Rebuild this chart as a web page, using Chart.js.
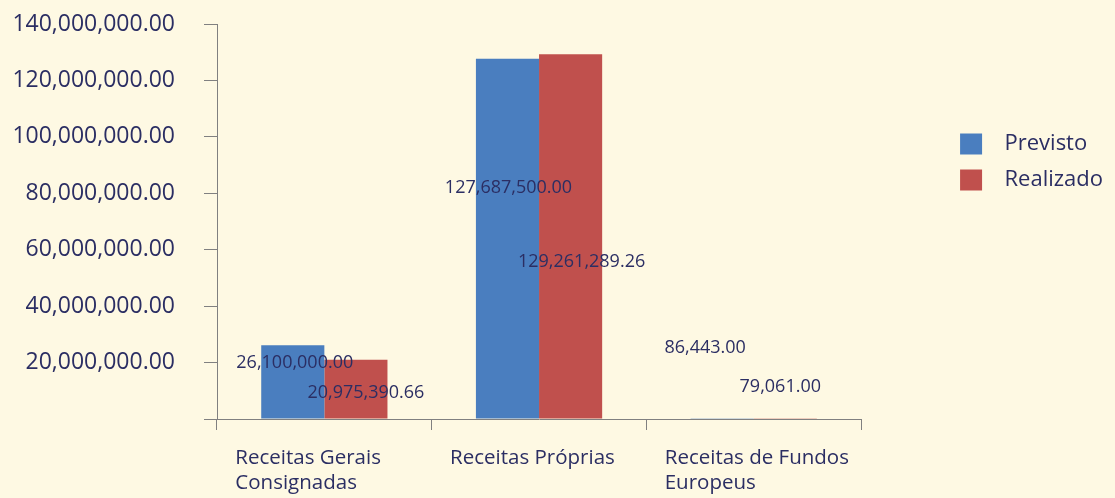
<!DOCTYPE html>
<html>
<head>
<meta charset="utf-8">
<script src="https://cdn.jsdelivr.net/npm/chart.js@4/dist/chart.umd.min.js"></script>
<style>
  html, body { margin: 0; padding: 0; background: #FEF9E3; }
  #wrap { width: 1115px; height: 498px; }
</style>
</head>
<body>
<div id="wrap"><canvas id="receitasChart" width="1115" height="498"></canvas></div>
<script>
var categories = [["Receitas Gerais", "Consignadas"], ["Receitas Próprias"], ["Receitas de Fundos", "Europeus"]];
var previsto = [26100000.00, 127687500.00, 86443.00];
var realizado = [20975390.66, 129261289.26, 79061.00];
var seriesNames = ["Previsto", "Realizado"];

var ink = "#2B2E63";
var axisGrey = "#808080";
var fontName = "Open Sans";

function fmt(v) {
    return v.toLocaleString("en-US", { minimumFractionDigits: 2, maximumFractionDigits: 2 });
}

// value labels: offsets from the bar centre and height above the baseline (px)
var labelPlace = [
    [{ dx: 2, up: 56 }, { dx: 1, up: 231 }, { dx: -17, up: 71 }],
    [{ dx: 10, up: 26 }, { dx: 11, up: 157 }, { dx: -5, up: 32 }]
];

var valueLabels = {
    id: "valueLabels",
    afterDatasetsDraw: function(chart) {
        var ctx = chart.ctx;
        var base = chart.scales.y.getPixelForValue(0);
        ctx.save();
        ctx.font = "18px '" + fontName + "'";
        ctx.fillStyle = ink;
        ctx.textAlign = "center";
        ctx.textBaseline = "middle";
        chart.data.datasets.forEach(function(ds, i) {
            var meta = chart.getDatasetMeta(i);
            meta.data.forEach(function(bar, j) {
                var p = labelPlace[i][j];
                ctx.fillText(fmt(ds.data[j]), bar.x + p.dx, base - p.up);
            });
        });
        ctx.restore();
    }
};

var ctx = document.getElementById("receitasChart").getContext("2d");
var chart = new Chart(ctx, {
    type: "bar",
    data: {
        labels: categories,
        datasets: [{
            label: seriesNames[0],
            data: previsto,
            backgroundColor: "#4A7EBF",
            categoryPercentage: 0.588,
            barPercentage: 1.0
        }, {
            label: seriesNames[1],
            data: realizado,
            backgroundColor: "#C0504D",
            categoryPercentage: 0.588,
            barPercentage: 1.0
        }]
    },
    options: {
        responsive: false,
        animation: false,
        layout: { padding: { top: 24, right: 2, left: 0, bottom: 0 } },
        plugins: {
            tooltip: { enabled: false },
            legend: {
                position: "right",
                align: "start",
                fullSize: false,
                maxWidth: 170,
                title: {
                    display: true,
                    text: " ",
                    font: { size: 10, lineHeight: 1 },
                    padding: { top: 42, bottom: 43 }
                },
                labels: {
                    boxWidth: 22,
                    boxHeight: 21,
                    padding: 14,
                    color: ink,
                    font: { family: fontName, size: 22 },
                    generateLabels: function(chart) {
                        var items = Chart.defaults.plugins.legend.labels.generateLabels(chart);
                        items.forEach(function(it) { it.text = "  " + it.text; it.lineWidth = 0; });
                        return items;
                    }
                }
            }
        },
        scales: {
            x: {
                grid: {
                    drawOnChartArea: false,
                    drawTicks: true,
                    tickLength: 11,
                    color: axisGrey
                },
                border: { display: true, color: axisGrey },
                ticks: {
                    align: "start",
                    labelOffset: -89,
                    padding: 16,
                    color: ink,
                    font: { family: fontName, size: 20.5, lineHeight: 1.22 }
                },
                afterFit: function(scale) { scale.height = 79; }
            },
            y: {
                min: 0,
                max: 140000000,
                grid: {
                    drawOnChartArea: false,
                    drawTicks: true,
                    tickLength: 13,
                    color: axisGrey
                },
                border: { display: true, color: axisGrey },
                ticks: {
                    stepSize: 20000000,
                    padding: 29,
                    color: ink,
                    font: { family: fontName, size: 23 },
                    callback: function(v) { return v === 0 ? "" : fmt(v); }
                },
                afterFit: function(scale) {
                    scale.width = 217;
                    scale.paddingTop = 12;
                    scale.paddingBottom = 0;
                }
            },
            // empty spacer axis that keeps the gap between the plot and the legend
            gap: {
                type: "linear",
                position: "right",
                display: true,
                grid: { display: false },
                border: { display: false },
                ticks: { display: false },
                afterFit: function(scale) {
                    scale.width = 85;
                    scale.paddingTop = 0;
                    scale.paddingBottom = 0;
                }
            }
        }
    },
    plugins: [valueLabels]
});
</script>
</body>
</html>
